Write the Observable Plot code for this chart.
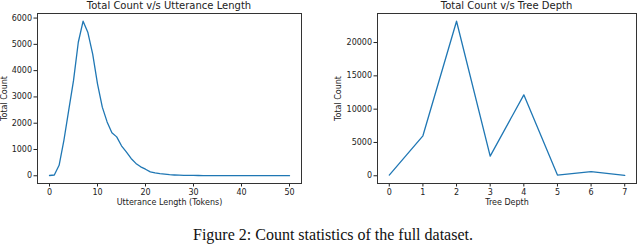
<!DOCTYPE html>
<html>
<head>
<meta charset="utf-8">
<script src="https://cdn.jsdelivr.net/npm/d3@7"></script>
<script src="https://cdn.jsdelivr.net/npm/@observablehq/plot@0.6"></script>
<style>
  body { margin: 0; background: #fff; }
  #wrap { width: 640px; height: 244px; position: relative; overflow: hidden; }
  #charts { display: flex; }
  #caption { position: absolute; left: 26px; width: 614px; top: 227px; line-height: 16px; text-align: center;
    font-family: "Liberation Serif", "Times New Roman", serif; font-size: 16px; color: #111; white-space: nowrap; }
  .ttl { position: absolute; top: 0px; font-family: "DejaVu Sans", sans-serif; font-size: 10px; color: #222; text-align: center; white-space: nowrap; }
</style>
</head>
<body>
<div id="wrap">
  <div id="charts"></div>
  <div id="caption">Figure 2: Count statistics of the full dataset.</div>
</div>
<script>
const utterLength = [0,1,2,3,4,5,6,7,8,9,10,11,12,13,14,15,16,17,18,19,20,21,22,23,24,25,26,27,28,29,30,31,32,33,34,35,36,37,38,39,40,41,42,43,44,45,46,47,48,49,50];
const utterCount = [10,30,400,1350,2490,3620,5080,5880,5450,4630,3500,2610,2050,1640,1480,1140,910,660,470,340,250,150,110,80,60,40,30,22,18,14,12,10,9,8,7,6,6,5,5,5,4,4,4,3,3,3,3,3,3,3,3];
const treeDepth = [0,1,2,3,4,5,6,7];
const treeCount = [100,6000,23200,2950,12150,100,620,60];
const leftTicksX = [0,10,20,30,40,50];
const leftTicksY = [0,1000,2000,3000,4000,5000,6000];
const rightTicksX = [0,1,2,3,4,5,6,7];
const rightTicksY = [0,5000,10000,15000,20000];
const titles = ["Total Count v/s Utterance Length", "Total Count v/s Tree Depth"];
const xLabels = ["Utterance Length (Tokens)", "Tree Depth"];
const yLabel = "Total Count";

const blue = "#1f77b4";
const style = {fontFamily: "DejaVu Sans, sans-serif", fontSize: "8px", color: "#222", background: "white", overflow: "visible"};

function chart(xs, ys, opts) {
  const data = xs.map((x, i) => ({x, y: ys[i]}));
  return Plot.plot({
    width: 320, height: 210,
    marginLeft: opts.ml, marginRight: opts.mr, marginTop: 13, marginBottom: 27,
    style,
    x: {domain: opts.xd, ticks: opts.xt, tickSize: 3.5, tickPadding: 2, label: opts.xl, labelAnchor: "center", labelArrow: "none", labelOffset: 21, tickFormat: d => String(d)},
    y: {domain: opts.yd, ticks: opts.yt, tickSize: 3.5, tickPadding: 2, label: yLabel, labelAnchor: "center", labelArrow: "none", labelOffset: opts.lo, tickFormat: d => String(d)},
    marks: [
      Plot.frame({stroke: "#333", strokeWidth: 1}),
      Plot.line(data, {x: "x", y: "y", stroke: blue, strokeWidth: 1.3})
    ]
  });
}

const left = chart(utterLength, utterCount, {ml: 37, mr: 19, xd: [-2.5, 52.5], xt: leftTicksX, yd: [-294, 6174], yt: leftTicksY, xl: xLabels[0], lo: 36});
const right = chart(treeDepth, treeCount, {ml: 57, mr: 4, xd: [-0.35, 7.35], xt: rightTicksX, yd: [-1160, 24360], yt: rightTicksY, xl: xLabels[1], lo: 42});

const charts = document.getElementById("charts");
charts.appendChild(left);
charts.appendChild(right);

const wrap = document.getElementById("wrap");
[[37, 301], [377, 636]].forEach(([a, b], i) => {
  const t = document.createElement("div");
  t.className = "ttl";
  t.style.left = a + "px";
  t.style.width = (b - a) + "px";
  t.textContent = titles[i];
  wrap.appendChild(t);
});
</script>
</body>
</html>
